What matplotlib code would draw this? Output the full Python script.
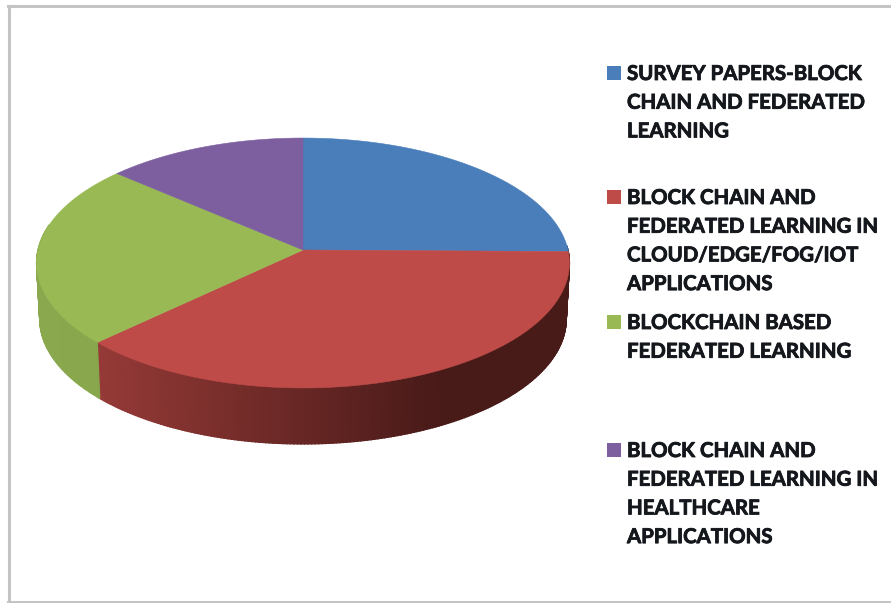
import numpy as np
import matplotlib
matplotlib.use("Agg")
import matplotlib.pyplot as plt
import matplotlib.patheffects as pe
from matplotlib.colors import to_rgb

labels = ["SURVEY PAPERS-BLOCK\nCHAIN AND FEDERATED\nLEARNING",
          "BLOCK CHAIN AND\nFEDERATED LEARNING IN\nCLOUD/EDGE/FOG/IOT\nAPPLICATIONS",
          "BLOCKCHAIN BASED\nFEDERATED LEARNING",
          "BLOCK CHAIN AND\nFEDERATED LEARNING IN\nHEALTHCARE\nAPPLICATIONS"]
values = [25.2, 37.6, 23.7, 13.5]
colors = ["#4a7ebb", "#be4b48", "#98b954", "#7d5fa0"]
legend_y = [73, 197, 322, 450]

CX, CY, A, B, K = 303, 250, 265, 123.6, 0.104
DEPTH, SHRINK = 56, 0.988

def project(theta, drop=0.0, scale=1.0):
    s, c = np.sin(theta), np.cos(theta)
    d = 1 + K * c
    return CX + scale * A * s / d, CY - B * c / d + drop

def mix(a, b, t):
    a, b = np.array(to_rgb(a)), np.array(to_rgb(b))
    return tuple(a + (b - a) * t)

def wall_color(x, base):
    # shading across the visible rim: lit on the left, dark on the right
    t = np.clip((x - 40) / 400, 0, 1)
    if base == "#98b954":
        return mix("#8aa94e", "#7f9c46", t)
    if base == "#be4b48":
        return mix("#a23f3c", "#481a18", t)
    return mix(base, "#000000", 0.5)

fig = plt.figure(figsize=(8.91, 6.03), dpi=100, facecolor="white")
ax = fig.add_axes([0, 0, 1, 1])
ax.set_xlim(0, 891)
ax.set_ylim(603, 0)
ax.axis("off")

# frame
ax.plot([8.5, 8.5], [6, 602], color="#c4c4c4", lw=2.2)
ax.plot([8, 891], [6, 6], color="#c4c4c4", lw=2.2)
ax.plot([8, 891], [602, 602], color="#c4c4c4", lw=2.2)

edges = np.radians(np.concatenate([[0], np.cumsum(values)]) / sum(values) * 360)

# rim
for i, col in enumerate(colors):
    lo, hi = max(edges[i], np.radians(88)), min(edges[i + 1], np.radians(282))
    if hi <= lo:
        continue
    th = np.linspace(lo, hi, max(int((hi - lo) / 0.012), 2))
    for t0, t1 in zip(th[:-1], th[1:]):
        tq = np.array([t0, t1 + 0.004])
        xt, yt = project(tq)
        xb, yb = project(tq, DEPTH, SHRINK)
        c = wall_color(xt.mean(), col)
        ax.fill([xt[0], xt[1], xb[1], xb[0]], [yt[0], yt[1], yb[1], yb[0]],
                facecolor=c, edgecolor=c, lw=0.9, zorder=2)

# top face
for i, col in enumerate(colors):
    th = np.linspace(edges[i], edges[i + 1], 200)
    x, y = project(th)
    ax.fill(np.r_[CX, x], np.r_[CY, y], color=col, lw=0.4, zorder=3)

# legend
for lab, y0, col in zip(labels, legend_y, colors):
    ax.scatter([614], [y0], marker="s", s=95, color=col, lw=0, zorder=4)
    for j, line in enumerate(lab.split("\n")):
        ax.text(627, y0 + 1 + j * 28.7, line, family="Lato", weight="bold",
                fontsize=14.7, color="#14171c", va="center", ha="left", zorder=5,
                path_effects=[pe.withStroke(linewidth=0.6, foreground="#14171c")])

fig.savefig("out.png", dpi=100, facecolor="white")
